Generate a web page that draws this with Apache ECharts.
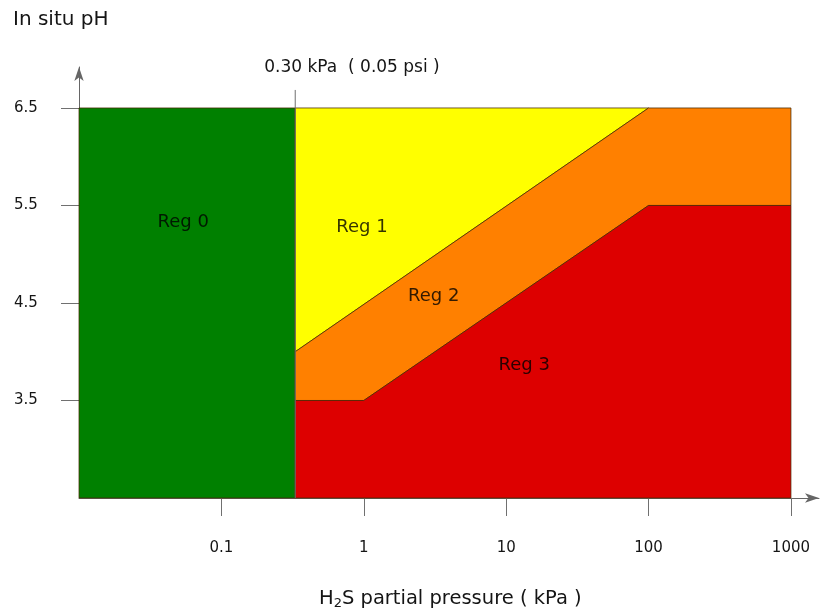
<!DOCTYPE html>
<html><head><meta charset="utf-8">
<script src="https://cdn.jsdelivr.net/npm/echarts@6/dist/echarts.min.js"></script>
<style>html,body{margin:0;padding:0;background:#fff}#c{width:821px;height:614px}</style>
</head><body><div id="c"></div>
<script>
// ---- data ----
const xTicks = [0.1, 1, 10, 100, 1000];
const yTicks = [3.5, 4.5, 5.5, 6.5];
const limitPressure = 0.33;          // position of the 0.30 kPa limit as drawn
const limitLabel = '0.30 kPa  ( 0.05 psi )';
const reg0 = [[0.01, 2.5], [0.33, 2.5], [0.33, 6.5], [0.01, 6.5]];
const reg1 = [[0.33, 4.0], [0.33, 6.5], [100, 6.5]];
const reg2 = [[0.33, 3.5], [0.33, 4.0], [100, 6.5], [1000, 6.5], [1000, 5.5], [100, 5.5], [1, 3.5]];
const reg3 = [[0.33, 2.5], [0.33, 3.5], [1, 3.5], [100, 5.5], [1000, 5.5], [1000, 2.5]];
const regionNames = ['Reg 0', 'Reg 1', 'Reg 2', 'Reg 3'];
const regionLabelAt = [[0.054, 5.33], [0.97, 5.28], [3.1, 4.57], [13.4, 3.86]];
const yName = 'In situ pH';
const xNameRich = 'H{sub|2}S partial pressure ( kPa )';

// ---- styles ----
const regions = [reg0, reg1, reg2, reg3];
const regionColors = ['#008000', '#ffff00', '#ff8000', '#dd0000'];
const FONT = '"DejaVu Sans", Verdana, sans-serif';
const TXT = '#151515';

const chart = echarts.init(document.getElementById('c'), null, {renderer: 'canvas'});

const regionSeries = regions.map((poly, i) => ({
  type: 'custom',
  name: regionNames[i],
  coordinateSystem: 'cartesian2d',
  clip: false,
  silent: true,
  data: [poly[0]],
  renderItem: (params, api) => ({
    type: 'polygon',
    shape: {points: poly.map(p => api.coord(p))},
    style: {fill: regionColors[i], stroke: 'rgba(70,40,0,0.75)', lineWidth: 1}
  }),
  z: 2
}));

const limitSeries = {
  type: 'custom',
  coordinateSystem: 'cartesian2d',
  clip: false,
  silent: true,
  data: [[limitPressure, 6.5]],
  renderItem: (params, api) => {
    const b = api.coord([limitPressure, 2.5]);
    const t = api.coord([limitPressure, 6.5]);
    return {
      type: 'group',
      children: [
        {type: 'line', shape: {x1: b[0], y1: b[1], x2: t[0], y2: t[1] - 18},
         style: {stroke: '#707070', lineWidth: 1}},
        {type: 'text', x: t[0] - 31, y: t[1] - 40,
         style: {text: limitLabel, fill: TXT, font: '17px ' + FONT, textAlign: 'left', textVerticalAlign: 'middle'}}
      ]
    };
  },
  z: 3
};

const labelSeries = {
  type: 'scatter',
  symbolSize: 0,
  silent: true,
  data: regionLabelAt.map((p, i) => ({value: p, name: regionNames[i]})),
  label: {show: true, position: 'inside', formatter: p => p.name,
          color: '#000', fontSize: 18, fontFamily: FONT},
  z: 5
};

chart.setOption({
  animation: false,
  backgroundColor: '#fff',
  grid: {left: 79, right: 2, top: 67, bottom: 116},
  xAxis: {
    type: 'log', logBase: 10, min: 0.01, max: 1574,
    axisLine: {show: true, symbol: ['none', 'arrow'], symbolSize: [7, 14], lineStyle: {color: '#666'}},
    axisTick: {show: true, length: 18, customValues: xTicks, lineStyle: {color: '#707070'}},
    minorTick: {show: false},
    axisLabel: {customValues: xTicks, margin: 43, fontSize: 15, color: TXT, fontFamily: FONT,
                formatter: v => String(+(+v).toPrecision(6))},
    splitLine: {show: false}
  },
  yAxis: {
    type: 'value', min: 2.5, max: 6.92,
    axisLine: {show: true, symbol: ['none', 'arrow'], symbolSize: [7, 14], lineStyle: {color: '#666'}},
    axisTick: {show: true, length: 18, customValues: yTicks, lineStyle: {color: '#707070'}},
    axisLabel: {customValues: yTicks, margin: 65, align: 'left', fontSize: 15, color: TXT, fontFamily: FONT,
                formatter: v => (+v).toFixed(1)},
    splitLine: {show: false}
  },
  graphic: [{
    type: 'text', left: 13, top: 10,
    style: {text: yName, font: '20px ' + FONT, fill: TXT}
  }, {
    type: 'text', left: 319, top: 589,
    style: {
      text: xNameRich,
      font: '19.5px ' + FONT, fill: TXT,
      rich: {sub: {fontSize: 13, fontFamily: FONT, fill: TXT, color: TXT, verticalAlign: 'bottom', padding: [9, 0, 0, 0]}}
    }
  }],
  series: [...regionSeries, limitSeries, labelSeries]
});
</script></body></html>
